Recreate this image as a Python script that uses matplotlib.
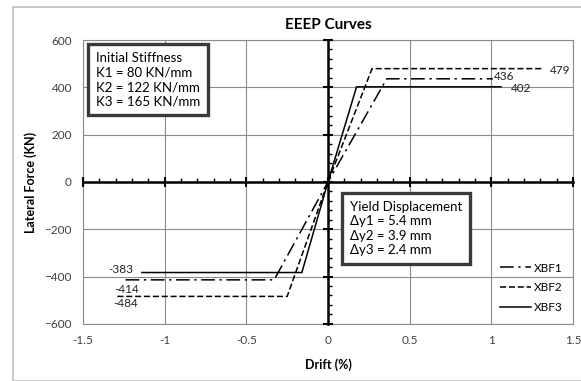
import matplotlib.pyplot as plt
from matplotlib.ticker import MultipleLocator
from matplotlib.patches import Rectangle

plt.rcParams['font.family'] = ['Lato', 'DejaVu Sans']

# Curvas EEEP (drift %, forca KN)
drift_xbf1 = [-1.24, -0.33, 0, 0.36, 1.01]
forca_xbf1 = [-414, -414, 0, 436, 436]
drift_xbf2 = [-1.29, -0.25, 0, 0.27, 1.31]
forca_xbf2 = [-484, -484, 0, 479, 479]
drift_xbf3 = [-1.14, -0.16, 0, 0.175, 1.06]
forca_xbf3 = [-383, -383, 0, 402, 402]

nomes = ['XBF1', 'XBF2', 'XBF3']
texto_rigidez = "Initial Stiffness\nK1 = 80 KN/mm\nK2 = 122 KN/mm\nK3 = 165 KN/mm"
texto_escoamento = "Yield Displacement\nΔy1 = 5.4 mm\nΔy2 = 3.9 mm\nΔy3 = 2.4 mm"

fig = plt.figure(figsize=(5.81, 3.81), dpi=100)
fig.patches.append(Rectangle((13/581, 0.0), 1.0, 1 - 7/381, transform=fig.transFigure,
                             fill=False, edgecolor='#bfbfbf', linewidth=1.2))

pos = [0.143, 0.150, 0.843, 0.745]
ax = fig.add_axes(pos)
ax.set_xlim(-1.5, 1.5)
ax.set_ylim(-600, 600)
ax.xaxis.set_major_locator(MultipleLocator(0.5))
ax.yaxis.set_major_locator(MultipleLocator(200))
ax.grid(True, color='#8c8c8c', linewidth=0.8)
ax.set_axisbelow(True)
for s in ax.spines.values():
    s.set_color('#8c8c8c')
    s.set_linewidth(0.8)
ax.tick_params(length=0, labelsize=8.5, colors='#404040', pad=8)
ax.set_xticks([-1.5, -1, -0.5, 0, 0.5, 1, 1.5])
ax.set_xticklabels(['-1.5', '-1', '-0.5', '0', '0.5', '1', '1.5'])

# eixos em zero com marcas
ax0 = fig.add_axes(pos, facecolor='none')
ax0.set_xlim(-1.5, 1.5)
ax0.set_ylim(-600, 600)
ax0.spines['left'].set_position(('data', 0))
ax0.spines['bottom'].set_position(('data', 0))
ax0.spines['top'].set_visible(False)
ax0.spines['right'].set_visible(False)
for s in ['left', 'bottom']:
    ax0.spines[s].set_linewidth(1.8)
ax0.xaxis.set_major_locator(MultipleLocator(0.5))
ax0.xaxis.set_minor_locator(MultipleLocator(0.1))
ax0.yaxis.set_major_locator(MultipleLocator(200))
ax0.yaxis.set_minor_locator(MultipleLocator(40))
ax0.tick_params(which='major', direction='inout', length=7, width=1.5, labelleft=False, labelbottom=False)
ax0.tick_params(which='minor', direction='in', length=3, width=1.0)
ax0.set_zorder(1)

estilos = [(0, (9, 3, 1.5, 3)), (0, (4, 1.8)), '-']
series = [(drift_xbf1, forca_xbf1), (drift_xbf2, forca_xbf2), (drift_xbf3, forca_xbf3)]
for (d, f), ls, nome in zip(series, estilos, nomes):
    ax0.plot(d, f, color='black', linestyle=ls, linewidth=1.1, label=nome)

# rotulos dos pontos finais
offs_pos = [(1, 2), (6, -1), (7, -1)]
offs_neg = [(1, -7), (6, -5), (-6, 2)]
for (d, f), op, on in zip(series, offs_pos, offs_neg):
    ax0.annotate(str(f[-1]), (d[-1], f[-1]), xytext=op, textcoords='offset points',
                 fontsize=8.5, color='#222222', va='center', ha='left')
    ax0.annotate(str(f[0]), (d[0], f[0]), xytext=on, textcoords='offset points',
                 fontsize=8.5, color='#222222', va='center', ha='right' if on[0] < 0 else 'center')

caixa = dict(boxstyle='square,pad=0.6', facecolor='white', edgecolor='#3a3a3a', linewidth=2.4)
fig.text(96/581, 1 - 52/381, texto_rigidez, fontsize=9.5, va='top', ha='left',
         linespacing=1.25, bbox=caixa, zorder=5)
fig.text(350/581, 1 - 201/381, texto_escoamento, fontsize=9.5, va='top', ha='left',
         linespacing=1.25, bbox=caixa, zorder=5)

leg = ax0.legend(loc='lower right', bbox_to_anchor=(1.0, 0.0), frameon=False, fontsize=8.5,
                 handlelength=2.6, labelspacing=0.75, handletextpad=0.2)

fig.text(0.5 * (83 + 573) / 581, 1 - 25/381, 'EEEP Curves', fontsize=11, fontweight='bold',
         ha='center', va='center')
fig.text(328/581, 1 - 365/381, 'Drift (%)', fontsize=9, fontweight='bold', ha='center', va='center')
fig.text(31/581, 1 - 182/381, 'Lateral Force (KN)', fontsize=9, fontweight='bold',
         ha='center', va='center', rotation=90)

fig.savefig('out.png', dpi=100)
